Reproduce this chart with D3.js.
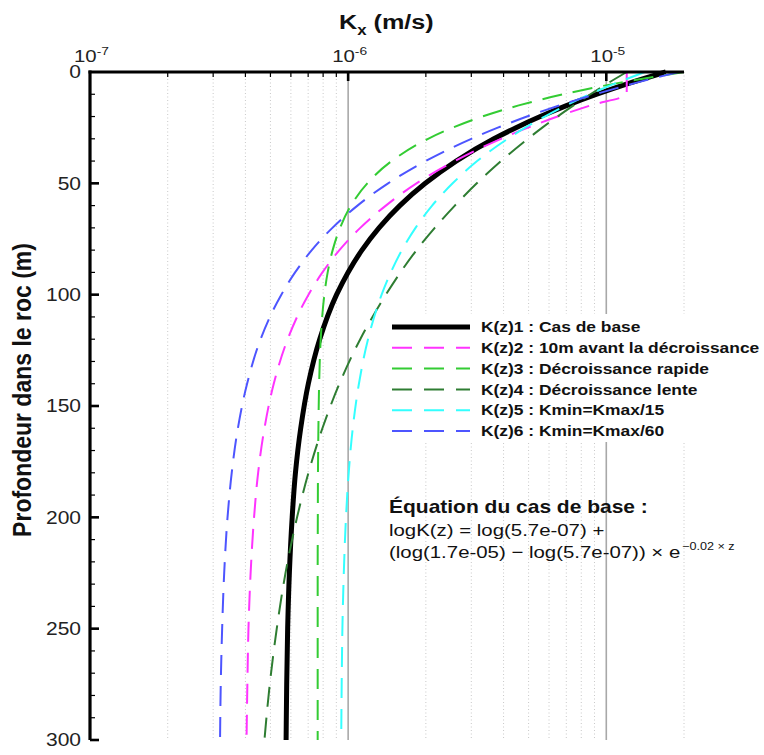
<!DOCTYPE html>
<html>
<head>
<meta charset="utf-8">
<script src="https://cdn.jsdelivr.net/npm/d3@7"></script>
<style>
  html, body { margin: 0; padding: 0; background: #fff; }
  svg { display: block; font-family: "Liberation Sans", Arial, sans-serif; }
</style>
</head>
<body>
<svg id="chart" width="764" height="755"></svg>
<script>
// ---------- data ----------
const depths = [0, 5, 10, 15, 20, 25, 30, 40, 50, 60, 70, 80, 90, 100, 120, 140, 160, 180, 200, 225, 250, 275, 300];

// K(z)1 : Cas de base
const k1 = [1.70e-5, 1.23e-5, 9.19e-6, 7.05e-6, 5.55e-6, 4.47e-6, 3.67e-6, 2.62e-6, 1.99e-6, 1.585e-6, 1.317e-6, 1.131e-6, 9.99e-7, 9.02e-7, 7.76e-7, 7.01e-7, 6.55e-7, 6.25e-7, 6.07e-7, 5.92e-7, 5.83e-7, 5.78e-7, 5.75e-7];
// K(z)2 : 10m avant la décroissance
const k2 = [1.20e-5, 1.20e-5, 1.20e-5, 8.68e-6, 6.47e-6, 4.97e-6, 3.91e-6, 2.59e-6, 1.84e-6, 1.40e-6, 1.114e-6, 9.25e-7, 7.95e-7, 7.02e-7, 5.83e-7, 5.15e-7, 4.74e-7, 4.48e-7, 4.32e-7, 4.19e-7, 4.11e-7, 4.07e-7, 4.04e-7];
// K(z)3 : Décroissance rapide
const k3 = [2.00e-5, 1.106e-5, 6.81e-6, 4.58e-6, 3.31e-6, 2.54e-6, 2.04e-6, 1.474e-6, 1.186e-6, 1.025e-6, 9.30e-7, 8.71e-7, 8.33e-7, 8.09e-7, 7.83e-7, 7.72e-7, 7.67e-7, 7.64e-7, 7.63e-7, 7.62e-7, 7.62e-7, 7.62e-7, 7.62e-7];
// K(z)4 : Décroissance lente
const k4 = [1.20e-5, 1.016e-5, 8.68e-6, 7.47e-6, 6.47e-6, 5.65e-6, 4.97e-6, 3.91e-6, 3.15e-6, 2.59e-6, 2.165e-6, 1.84e-6, 1.594e-6, 1.40e-6, 1.114e-6, 9.25e-7, 7.95e-7, 7.02e-7, 6.34e-7, 5.72e-7, 5.29e-7, 4.97e-7, 4.74e-7];
// K(z)5 : Kmin=Kmax/15
const k5 = [1.41e-5, 1.091e-5, 8.63e-6, 6.98e-6, 5.77e-6, 4.85e-6, 4.15e-6, 3.16e-6, 2.54e-6, 2.115e-6, 1.824e-6, 1.615e-6, 1.463e-6, 1.348e-6, 1.194e-6, 1.101e-6, 1.042e-6, 1.005e-6, 9.81e-7, 9.62e-7, 9.50e-7, 9.44e-7, 9.40e-7];
// K(z)6 : Kmin=Kmax/60
const k6 = [1.905e-5, 1.29e-5, 9.06e-6, 6.59e-6, 4.93e-6, 3.80e-6, 3.00e-6, 1.995e-6, 1.428e-6, 1.087e-6, 8.69e-7, 7.23e-7, 6.23e-7, 5.51e-7, 4.58e-7, 4.06e-7, 3.74e-7, 3.54e-7, 3.41e-7, 3.31e-7, 3.25e-7, 3.21e-7, 3.19e-7];

const seriesLabels = [
  "K(z)1 : Cas de base",
  "K(z)2 : 10m avant la décroissance",
  "K(z)3 : Décroissance rapide",
  "K(z)4 : Décroissance lente",
  "K(z)5 : Kmin=Kmax/15",
  "K(z)6 : Kmin=Kmax/60"
];
const seriesValues = [k1, k2, k3, k4, k5, k6];
const seriesColors = ["#000000", "#ff33ff", "#33cc33", "#2e7d32", "#33ffff", "#4d55ff"];

const xDomain = [1e-7, 2e-5];
const yDomain = [0, 300];
const majorDecades = [1e-7, 1e-6, 1e-5];
const decadeExponents = ["-7", "-6", "-5"];
const minorTicks = [2e-7,3e-7,4e-7,5e-7,6e-7,7e-7,8e-7,9e-7,2e-6,3e-6,4e-6,5e-6,6e-6,7e-6,8e-6,9e-6,2e-5];
const yMajorTicks = [0, 50, 100, 150, 200, 250, 300];
const yMinorTicks = [10,20,30,40,60,70,80,90,110,120,130,140,160,170,180,190,210,220,230,240,260,270,280,290];

const xTitle = "K";
const xTitleSub = "x";
const xTitleRest = " (m/s)";
const yTitle = "Profondeur dans le roc (m)";
const eqTitle = "Équation du cas de base :";
const eqLine1 = "logK(z) = log(5.7e-07) +";
const eqLine2 = "(log(1.7e-05) − log(5.7e-07)) × e";
const eqSup = "−0.02 × z";

// ---------- layout ----------
const SX = 1.2; // horizontal stretch of the lettering seen in the reference
const svg = d3.select("#chart");
const L = 90, R = 684, T = 72, B = 740;
const x = d3.scaleLog().domain(xDomain).range([L, R]);
const y = d3.scaleLinear().domain(yDomain).range([T, B]);

function stext(parent, px, py) {
  return parent.append("g")
    .attr("transform", `translate(${px},${py}) scale(${SX},1)`)
    .append("text").attr("x", 0).attr("y", 0);
}

// grid
const grid = svg.append("g");
grid.selectAll("line.minor").data(minorTicks).enter().append("line")
  .attr("x1", d => x(d)).attr("x2", d => x(d))
  .attr("y1", T).attr("y2", B)
  .attr("stroke", "#c8c8c8").attr("stroke-width", 1)
  .attr("stroke-dasharray", "1,2.5");
grid.selectAll("line.major").data([1e-6, 1e-5]).enter().append("line")
  .attr("x1", d => x(d)).attr("x2", d => x(d))
  .attr("y1", T).attr("y2", B)
  .attr("stroke", "#a8a8a8").attr("stroke-width", 1.6);

// curves
svg.append("defs").append("clipPath").attr("id", "plotclip")
  .append("rect").attr("x", L).attr("y", T - 4).attr("width", R - L + 2).attr("height", B - T + 4);

const line = d3.line()
  .x(d => x(d[1]))
  .y(d => y(d[0]))
  .curve(d3.curveMonotoneY);

const curves = svg.append("g").attr("clip-path", "url(#plotclip)");
seriesValues.forEach((vals, i) => {
  const pts = depths.map((z, j) => [z, vals[j]]);
  curves.append("path")
    .attr("d", line(pts))
    .attr("fill", "none")
    .attr("stroke", seriesColors[i])
    .attr("stroke-width", i === 0 ? 5 : 2)
    .attr("stroke-dasharray", i === 0 ? null : "20,11")
    .attr("stroke-linejoin", "round");
});

// legend
const lg = svg.append("g");
lg.append("rect").attr("x", 384).attr("y", 314).attr("width", 380).attr("height", 128).attr("fill", "#fff");
seriesLabels.forEach((lab, i) => {
  const yy = 327 + i * 20.8;
  lg.append("line")
    .attr("x1", 392).attr("x2", 470).attr("y1", yy).attr("y2", yy)
    .attr("stroke", seriesColors[i])
    .attr("stroke-width", i === 0 ? 5 : 2)
    .attr("stroke-dasharray", i === 0 ? null : "20,12");
  stext(lg, 481, yy).attr("dy", "0.36em")
    .attr("font-size", 14.5).attr("font-weight", "bold").attr("fill", "#111")
    .text(lab);
});

// equation
const eq = svg.append("g").attr("fill", "#111");
stext(eq, 389, 513).attr("font-size", 17.5).attr("font-weight", "bold").text(eqTitle);
stext(eq, 389, 536).attr("font-size", 17).text(eqLine1);
const t3 = stext(eq, 389, 558).attr("font-size", 17);
t3.append("tspan").text(eqLine2);
t3.append("tspan").attr("dy", -8).attr("dx", 1.5).attr("font-size", 10.5).text(eqSup);

// axes
const ax = svg.append("g");
ax.append("line").attr("x1", L).attr("x2", L).attr("y1", T - 1.5).attr("y2", B)
  .attr("stroke", "#000").attr("stroke-width", 3.2);
ax.append("line").attr("x1", L - 1.5).attr("x2", R).attr("y1", T).attr("y2", T)
  .attr("stroke", "#000").attr("stroke-width", 3.2);
ax.selectAll("line.ymaj").data(yMajorTicks.filter(d => d > 0)).enter().append("line")
  .attr("x1", L).attr("x2", L + 9).attr("y1", d => y(d)).attr("y2", d => y(d))
  .attr("stroke", "#000").attr("stroke-width", 2.6);
ax.selectAll("line.ymin").data(yMinorTicks).enter().append("line")
  .attr("x1", L).attr("x2", L + 5).attr("y1", d => y(d)).attr("y2", d => y(d))
  .attr("stroke", "#000").attr("stroke-width", 1.2);
yMajorTicks.forEach(d => {
  stext(ax, 81, y(d)).attr("dy", "0.36em")
    .attr("text-anchor", "end").attr("font-size", 17.5).attr("fill", "#222")
    .text(d);
});
ax.selectAll("line.xmaj").data(majorDecades.slice(1)).enter().append("line")
  .attr("x1", d => x(d)).attr("x2", d => x(d)).attr("y1", T).attr("y2", T + 9)
  .attr("stroke", "#000").attr("stroke-width", 2.6);
ax.selectAll("line.xmin").data(minorTicks.slice(0, -1)).enter().append("line")
  .attr("x1", d => x(d)).attr("x2", d => x(d)).attr("y1", T).attr("y2", T + 5)
  .attr("stroke", "#000").attr("stroke-width", 1.2);
majorDecades.forEach((d, i) => {
  const t = stext(ax, x(d) - 16, 62)
    .attr("text-anchor", "start").attr("font-size", 17).attr("fill", "#222");
  t.append("tspan").text("10");
  t.append("tspan").attr("dy", -7).attr("font-size", 11.5).text(decadeExponents[i]);
});

// titles
const xt = stext(svg, 339, 29)
  .attr("text-anchor", "start").attr("font-size", 21).attr("font-weight", "bold").attr("fill", "#111");
xt.append("tspan").text(xTitle);
xt.append("tspan").attr("dy", 6).attr("font-size", 14).text(xTitleSub);
xt.append("tspan").attr("dy", -6).text(xTitleRest);

svg.append("text")
  .attr("transform", "translate(31,390) rotate(-90) scale(1,1.12)")
  .attr("text-anchor", "middle").attr("font-size", 23).attr("font-weight", "bold").attr("fill", "#111")
  .text(yTitle);
</script>
</body>
</html>
